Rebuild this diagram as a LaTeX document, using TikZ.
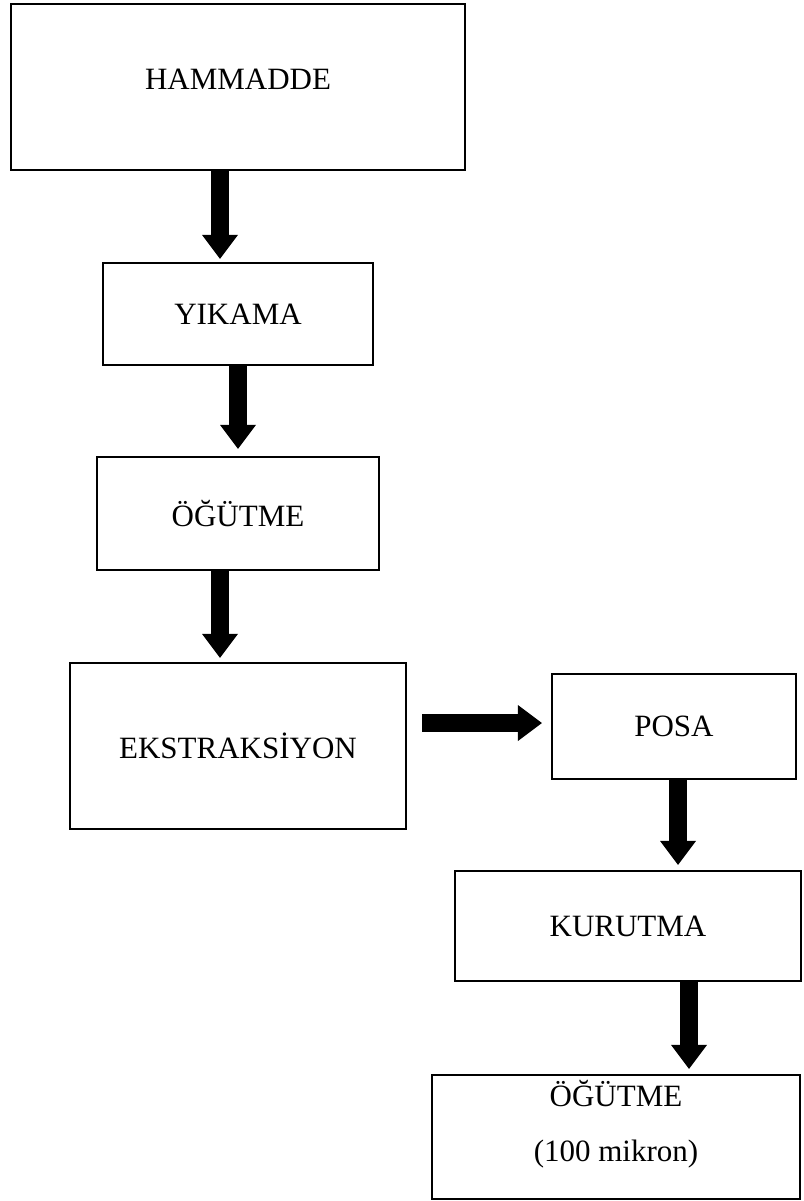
\documentclass[tikz,border=0pt]{standalone}
\usepackage{fontspec}
\setmainfont{Liberation Serif}
\usepackage{tikz}
\usetikzlibrary{arrows.meta, positioning}

\begin{document}
\begin{tikzpicture}[
  x=1pt, y=-1pt,
  process/.style={draw=black, line width=2.2pt, fill=white, inner sep=0pt,
                  font=\fontsize{31}{55}\selectfont, align=center},
  flow/.style={draw=black, line width=18pt, shorten >=5pt,
               -{Triangle[length=24pt, width=36pt, line width=0pt]}},
]
  \useasboundingbox (0,0) rectangle (803,1201);

  % Main chain on the left
  \node[process, minimum width=454pt, minimum height=166pt, text depth=16pt] (hammadde) at (238,87) {HAMMADDE};
  \node[process, minimum width=270pt, minimum height=102pt] (yikama) at (238,314) {YIKAMA};
  \node[process, minimum width=282pt, minimum height=113pt] (ogutme) at (238,513.5) {ÖĞÜTME};
  \node[process, minimum width=336pt, minimum height=166pt] (ekstraksiyon) at (238,746) {EKSTRAKSİYON};

  % Branch on the right
  \node[process, minimum width=244pt, minimum height=105pt] (posa) at (674,726.5) {POSA};
  \node[process, minimum width=346pt, minimum height=110pt] (kurutma) at (628,926) {KURUTMA};
  \node[process, minimum width=368pt, minimum height=124pt, text depth=32pt] (ogutmeiki) at (616,1137) {ÖĞÜTME\\(100 mikron)};

  % Block arrows
  \draw[flow, shorten >=3pt] ([xshift=-18pt]hammadde.south) -- ([xshift=-18pt]yikama.north);
  \draw[flow, shorten >=7pt] (yikama.south) -- (ogutme.north);
  \draw[flow, shorten >=4pt] ([xshift=-18pt]ogutme.south) -- ([xshift=-18pt]ekstraksiyon.north);
  \draw[flow, shorten <=15pt, shorten >=9pt] ([yshift=23pt]ekstraksiyon.east) -- ([yshift=3.5pt]posa.west);
  \draw[flow] ([xshift=4pt]posa.south) -- ([xshift=50pt]kurutma.north);
  \draw[flow] ([xshift=61pt]kurutma.south) -- ([xshift=73pt]ogutmeiki.north);
\end{tikzpicture}
\end{document}
